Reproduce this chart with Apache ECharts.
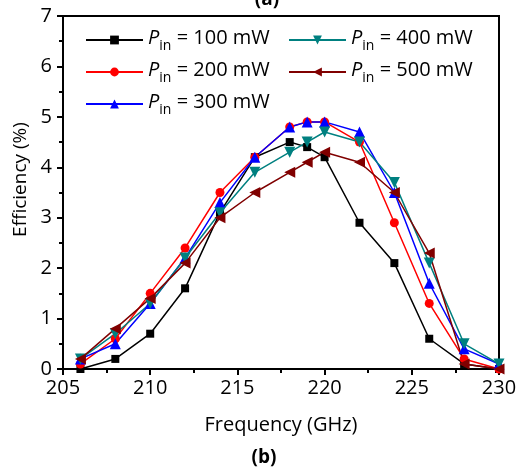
<!DOCTYPE html>
<html lang="en">
<head>
    <meta charset="UTF-8">
    <title>Efficiency vs Frequency</title>
    <style>
        * {
            margin: 0;
            padding: 0;
        }

        .main {
            width: 525px;
            height: 468px;
        }
    </style>
</head>
<body>
<div id="main" class="main"></div>
<script src="https://cdn.jsdelivr.net/npm/echarts@6/dist/echarts.min.js"></script>
<script>
    var freqs = [206, 208, 210, 212, 214, 216, 218, 219, 220, 222, 224, 226, 228, 230];
    var p100 = [0, 0.2, 0.7, 1.6, 3.1, 4.2, 4.5, 4.4, 4.2, 2.9, 2.1, 0.6, 0.1, 0];
    var p200 = [0.1, 0.6, 1.5, 2.4, 3.5, 4.2, 4.8, 4.9, 4.9, 4.5, 2.9, 1.3, 0.2, 0];
    var p300 = [0.2, 0.5, 1.3, 2.2, 3.3, 4.2, 4.8, 4.9, 4.9, 4.7, 3.5, 1.7, 0.4, 0.1];
    var p400 = [0.2, 0.7, 1.3, 2.2, 3.1, 3.9, 4.3, 4.5, 4.7, 4.5, 3.7, 2.1, 0.5, 0.1];
    var p500 = [0.2, 0.8, 1.4, 2.1, 3.0, 3.5, 3.9, 4.1, 4.3, 4.1, 3.5, 2.3, 0.1, 0];
    var names = ['100 mW', '200 mW', '300 mW', '400 mW', '500 mW'];

    var font = 'Open Sans';

    function pairs(vals) {
        return freqs.map(function (f, i) {
            return [f, vals[i]];
        });
    }

    function mk(name, vals, color, symbol, size, rot) {
        return {
            name: name,
            type: 'line',
            data: pairs(vals),
            symbol: symbol,
            symbolSize: size,
            symbolRotate: rot,
            lineStyle: {color: color, width: 1.5},
            itemStyle: {color: color},
            emphasis: {disabled: true}
        };
    }

    var legendText = {
        color: '#000',
        fontFamily: font,
        fontSize: 20,
        rich: {
            i: {fontStyle: 'italic', fontSize: 20, fontFamily: font, verticalAlign: 'top', lineHeight: 24},
            s: {fontSize: 14, fontFamily: font, verticalAlign: 'top', lineHeight: 15, padding: [11, 0, 0, 0]},
            t: {fontSize: 20, fontFamily: font, verticalAlign: 'top', lineHeight: 24}
        }
    };

    function legendFmt(n) {
        return '{i|P}{s|in}{t| = ' + n + '}';
    }

    var myChart = echarts.init(document.getElementById('main'), null, {renderer: 'canvas'});

    myChart.setOption({
        animation: false,
        title: [
            {text: '(a)', left: 262, top: -15, textAlign: 'center',
                textStyle: {fontFamily: font, fontSize: 19, fontWeight: 'bold', color: '#000'}},
            {text: '(b)', left: 259, top: 443, textAlign: 'center',
                textStyle: {fontFamily: font, fontSize: 19, fontWeight: 'bold', color: '#000'}}
        ],
        grid: {
            left: 63, right: 26, top: 16, bottom: 99,
            show: true, borderColor: '#000', borderWidth: 2
        },
        legend: [
            {
                data: [names[0], names[1], names[2]],
                orient: 'vertical', left: 80, top: 23,
                itemWidth: 57, itemHeight: 11, itemGap: 7,
                formatter: legendFmt, textStyle: legendText
            },
            {
                data: [names[3], names[4]],
                orient: 'vertical', left: 283, top: 23,
                itemWidth: 57, itemHeight: 11, itemGap: 7,
                formatter: legendFmt, textStyle: legendText
            }
        ],
        xAxis: {
            type: 'value', min: 205, max: 230, interval: 5,
            name: 'Frequency (GHz)', nameLocation: 'middle', nameGap: 46,
            nameTextStyle: {fontFamily: font, fontSize: 20, color: '#000'},
            axisLine: {lineStyle: {color: '#000', width: 2}},
            axisTick: {length: 6, lineStyle: {color: '#000', width: 2}},
            minorTick: {show: true, splitNumber: 2, length: 4, lineStyle: {color: '#000', width: 2}},
            axisLabel: {fontFamily: font, fontSize: 20, color: '#000', margin: 9},
            splitLine: {show: false}
        },
        yAxis: {
            type: 'value', min: 0, max: 7, interval: 1,
            name: 'Efficiency (%)', nameLocation: 'middle', nameGap: 32,
            nameTextStyle: {fontFamily: font, fontSize: 19, color: '#000', padding: [0, 0, 0, 26]},
            axisLine: {lineStyle: {color: '#000', width: 2}},
            axisTick: {length: 6, lineStyle: {color: '#000', width: 2}},
            minorTick: {show: true, splitNumber: 2, length: 4, lineStyle: {color: '#000', width: 2}},
            axisLabel: {fontFamily: font, fontSize: 20, color: '#000', margin: 11},
            splitLine: {show: false}
        },
        series: [
            mk(names[0], p100, '#000000', 'rect', 8, 0),
            mk(names[1], p200, '#ff0000', 'circle', 9, 0),
            mk(names[2], p300, '#0000ff', 'triangle', 11, 0),
            mk(names[3], p400, '#008080', 'triangle', 11, 180),
            mk(names[4], p500, '#800000', 'triangle', 11, 90)
        ]
    });
</script>
</body>
</html>
